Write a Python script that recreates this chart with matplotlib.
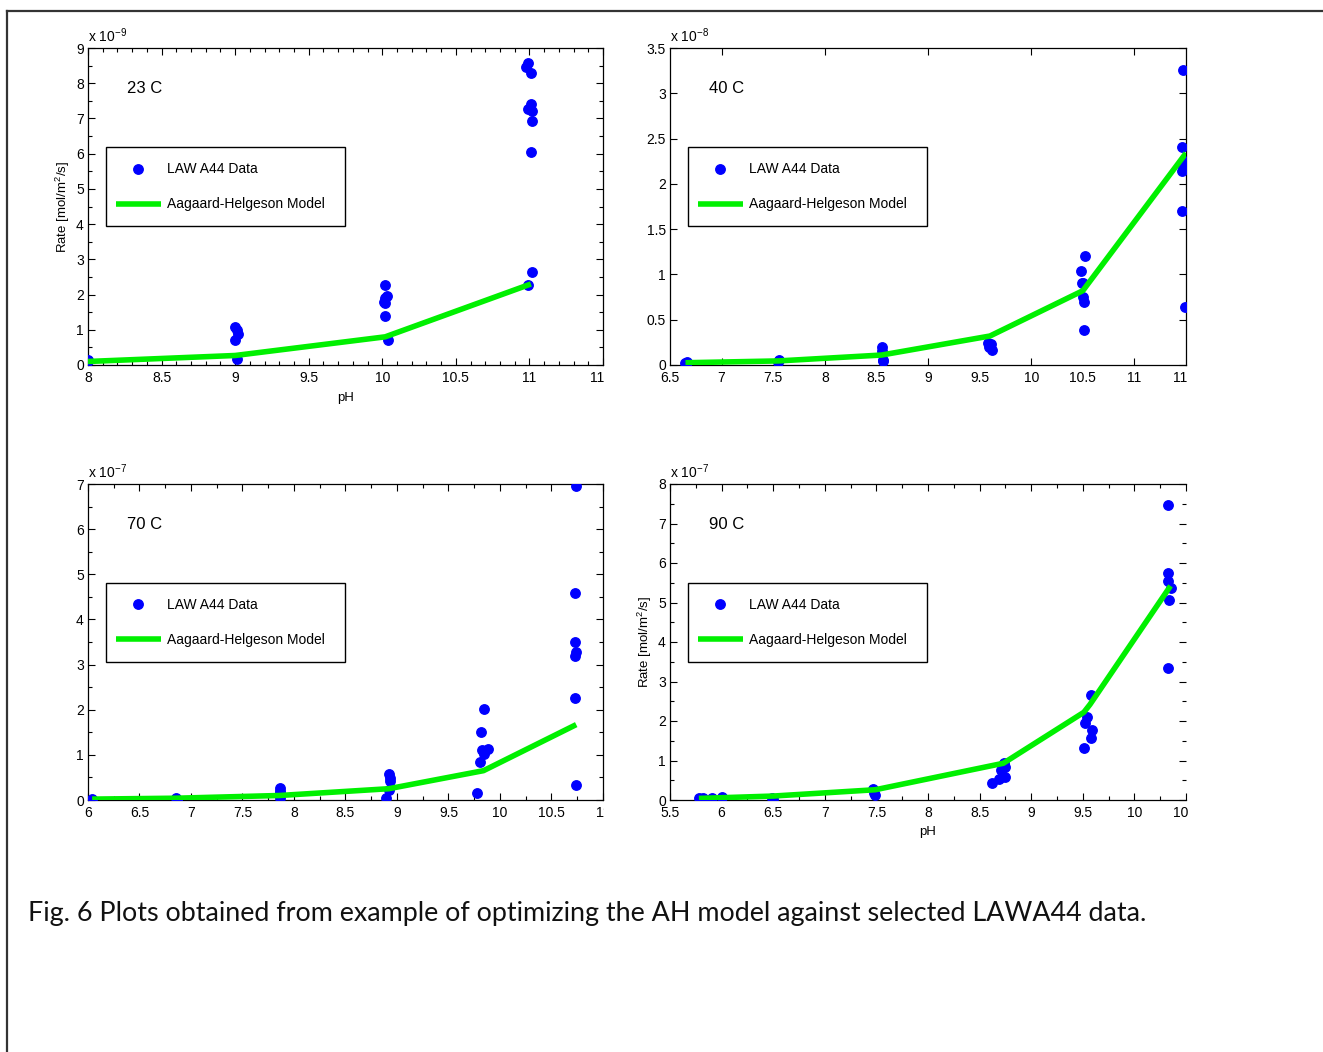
import matplotlib
matplotlib.use("Agg")
import matplotlib.pyplot as plt
from matplotlib.ticker import MultipleLocator, FormatStrFormatter
from matplotlib.patches import Rectangle
from matplotlib.lines import Line2D
from matplotlib.legend_handler import HandlerLine2D

plt.rcParams["font.family"] = ["Liberation Sans", "DejaVu Sans"]
plt.rcParams["mathtext.fontset"] = "custom"
plt.rcParams["mathtext.rm"] = "Liberation Sans"
plt.rcParams["mathtext.it"] = "Liberation Sans"
plt.rcParams["mathtext.bf"] = "Liberation Sans"

# ---------------- data ----------------
temps = ["23 C", "40 C", "70 C", "90 C"]
exponents = [-9, -8, -7, -7]

# 23 C  (rate in units of 1e-9)
ph_23 = [8.0, 8.0, 9.0, 9.01, 9.02, 9.0, 9.01, 10.02, 10.03, 10.02, 10.01, 10.02,
         10.02, 10.04, 10.99, 10.98, 11.01, 11.01, 10.99, 11.02, 11.02, 11.01, 11.02, 10.99]
rate_23 = [0.15, 0.1, 1.08, 1.0, 0.88, 0.72, 0.17, 2.27, 1.96, 1.9, 1.8, 1.75,
           1.38, 0.7, 8.57, 8.45, 8.3, 7.42, 7.26, 7.2, 6.92, 6.05, 2.64, 2.27]
model_ph_23 = [8.0, 9.0, 10.02, 11.01]
model_rate_23 = [0.1, 0.27, 0.8, 2.3]

# 40 C  (rate in units of 1e-8)
ph_40 = [6.65, 6.66, 7.55, 7.56, 8.55, 8.55, 8.56, 8.56, 9.58, 9.6, 9.61, 9.59, 9.62,
         10.48, 10.52, 10.49, 10.5, 10.5, 10.51, 10.51,
         11.47, 11.46, 11.47, 11.46, 11.48, 11.46, 11.49]
rate_40 = [0.02, 0.03, 0.03, 0.05, 0.2, 0.15, 0.06, 0.04, 0.24, 0.22, 0.23, 0.2, 0.17,
           1.04, 1.2, 0.91, 0.9, 0.75, 0.7, 0.39,
           3.26, 2.41, 2.2, 2.14, 2.25, 1.70, 0.64]
model_ph_40 = [6.65, 7.55, 8.55, 9.6, 10.5, 11.5]
model_rate_40 = [0.025, 0.045, 0.11, 0.32, 0.82, 2.34]

# 70 C  (rate in units of 1e-7)
ph_70 = [6.04, 6.85, 6.86, 7.86, 7.86, 7.86, 7.86, 8.92, 8.93, 8.93, 8.92, 8.89,
         9.84, 9.82, 9.83, 9.88, 9.84, 9.81, 9.78,
         10.74, 10.73, 10.73, 10.74, 10.73, 10.73, 10.74]
rate_70 = [0.02, 0.04, 0.0, 0.26, 0.21, 0.16, 0.04, 0.58, 0.48, 0.41, 0.22, 0.04,
           2.02, 1.5, 1.1, 1.12, 1.02, 0.85, 0.16,
           6.95, 4.58, 3.5, 3.27, 3.19, 2.25, 0.33]
model_ph_70 = [6.04, 6.86, 7.86, 8.92, 9.84, 10.74]
model_rate_70 = [0.02, 0.04, 0.1, 0.25, 0.65, 1.67]

# 90 C  (rate in units of 1e-7)
ph_90 = [5.78, 5.8, 5.82, 5.91, 6.0, 6.49, 6.5, 7.47, 7.48, 7.49,
         8.62, 8.69, 8.71, 8.75, 8.75, 8.74,
         9.51, 9.52, 9.54, 9.58, 9.58, 9.59,
         10.33, 10.33, 10.33, 10.35, 10.34, 10.33]
rate_90 = [0.04, 0.03, 0.04, 0.04, 0.08, 0.06, 0.03, 0.29, 0.17, 0.13,
           0.42, 0.53, 0.77, 0.84, 0.59, 0.93,
           1.32, 1.94, 2.1, 2.65, 1.57, 1.78,
           7.47, 5.75, 5.54, 5.37, 5.07, 3.33]
model_ph_90 = [5.78, 6.5, 7.49, 8.73, 9.51, 9.57, 10.35]
model_rate_90 = [0.04, 0.1, 0.26, 0.93, 2.22, 2.42, 5.42]

data_label = "LAW A44 Data"
model_label = "Aagaard-Helgeson Model"
ylabel_text = r"Rate [mol/m$^{2}$/s]"
xlabel_text = "pH"
caption = "Fig. 6 Plots obtained from example of optimizing the AH model against selected LAWA44 data."

# ---------------- layout ----------------
W, H = 1323, 1052
fig = plt.figure(figsize=(W / 100, H / 100), dpi=100)
fig.patch.set_facecolor("white")


def fbox(l, t, r, b):
    return [l / W, 1 - b / H, (r - l) / W, (b - t) / H]


class CenteredHandler(HandlerLine2D):
    """Line/marker legend handler drawn a little lower so it lines up with its label."""
    def create_artists(self, legend, orig_handle, xdescent, ydescent, width, height,
                       fontsize, trans):
        return super().create_artists(legend, orig_handle, xdescent, ydescent + 5.5,
                                      width, height, fontsize, trans)


panels = [
    dict(rect=fbox(88, 48, 603, 365), ph=ph_23, rate=rate_23, mph=model_ph_23, mrate=model_rate_23,
         xlim=(8, 11.5), ylim=(0, 9), xmaj=0.5, xmin=0.1, ymaj=1, ymin=0.5, ylab=True, xlab=True),
    dict(rect=fbox(670, 48, 1186, 365), ph=ph_40, rate=rate_40, mph=model_ph_40, mrate=model_rate_40,
         xlim=(6.5, 11.5), ylim=(0, 3.5), xmaj=0.5, xmin=None, ymaj=0.5, ymin=None, ylab=False, xlab=False),
    dict(rect=fbox(88, 484, 603, 800), ph=ph_70, rate=rate_70, mph=model_ph_70, mrate=model_rate_70,
         xlim=(6, 11), ylim=(0, 7), xmaj=0.5, xmin=0.25, ymaj=1, ymin=0.5, ylab=False, xlab=False),
    dict(rect=fbox(670, 484, 1186, 800), ph=ph_90, rate=rate_90, mph=model_ph_90, mrate=model_rate_90,
         xlim=(5.5, 10.5), ylim=(0, 8), xmaj=0.5, xmin=0.25, ymaj=1, ymin=0.5, ylab=True, xlab=True),
]

blue = "#0000ff"
green = "#00f000"
tick_fs = 10

for i, p in enumerate(panels):
    ax = fig.add_axes(p["rect"])
    ax.plot(p["ph"], p["rate"], "o", ls="none", color=blue, ms=6.8, mec=blue,
            label=data_label, zorder=3)
    ax.plot(p["mph"], p["mrate"], "-", color=green, lw=4.0, label=model_label,
            solid_capstyle="butt", solid_joinstyle="round", zorder=4)
    ax.set_xlim(*p["xlim"])
    ax.set_ylim(*p["ylim"])
    ax.xaxis.set_major_locator(MultipleLocator(p["xmaj"]))
    ax.yaxis.set_major_locator(MultipleLocator(p["ymaj"]))
    ax.xaxis.set_major_formatter(FormatStrFormatter("%g"))
    ax.yaxis.set_major_formatter(FormatStrFormatter("%g"))
    if p["xmin"]:
        ax.xaxis.set_minor_locator(MultipleLocator(p["xmin"]))
    if p["ymin"]:
        ax.yaxis.set_minor_locator(MultipleLocator(p["ymin"]))
    ax.tick_params(which="both", direction="in", top=True, right=True,
                   labelsize=tick_fs, width=0.8)
    ax.tick_params(axis="x", which="both", pad=4.5)
    ax.tick_params(axis="y", which="both", pad=3)
    ax.tick_params(which="major", length=5)
    ax.tick_params(which="minor", length=3)
    if i == 1:
        # this panel shows tick marks only at whole pH units
        ax.xaxis.remove_overlapping_locs = False
        ax.xaxis.set_minor_locator(MultipleLocator(1.0))
        ax.tick_params(axis="x", which="major", length=0)
        ax.tick_params(axis="x", which="minor", length=5)
    for s in ax.spines.values():
        s.set_linewidth(0.9)
    if i == 3:
        ax.spines["right"].set_visible(False)

    if p["ylab"]:
        ax.set_ylabel(ylabel_text, fontsize=9.5, labelpad=3)
    if p["xlab"]:
        ax.set_xlabel(xlabel_text, fontsize=9.5, labelpad=4.5)

    ax.text(0.076, 0.872, temps[i], transform=ax.transAxes, fontsize=12,
            ha="left", va="center")
    ax.annotate(r"x 10$^{%d}$" % exponents[i], xy=(0, 1), xycoords="axes fraction",
                xytext=(0, 2), textcoords="offset points", fontsize=10,
                ha="left", va="bottom")

    leg = ax.legend(loc="upper left", bbox_to_anchor=(0.035, 0.438, 0.464, 0.25),
                    mode="expand", borderaxespad=0, fontsize=10, numpoints=1,
                    fancybox=False, edgecolor="black", framealpha=1,
                    borderpad=0.7, labelspacing=0.75, handlelength=3.24,
                    handleheight=2.35, handletextpad=0.43,
                    handler_map={Line2D: CenteredHandler()})
    leg.get_frame().set_linewidth(1.0)

# crop masks (the source figure was cropped at the panels' right edges)
for (l, t, r, b) in [(604, 366, 645, 395), (604, 801, 645, 830), (1188, 20, 1323, 860)]:
    fig.add_artist(Rectangle((l / W, 1 - b / H), (r - l) / W, (b - t) / H,
                             transform=fig.transFigure, facecolor="white",
                             edgecolor="none", zorder=20))

# page border (top and left)
fig.add_artist(Line2D([7 / W, 1.0], [1 - 11 / H, 1 - 11 / H], transform=fig.transFigure,
                      color="#333333", lw=1.6, zorder=30))
fig.add_artist(Line2D([7 / W, 7 / W], [0, 1 - 11 / H], transform=fig.transFigure,
                      color="#333333", lw=1.6, zorder=30))

# caption, sized to span the same width as in the source
cap = fig.text(28 / W, 1 - 913 / H, caption, fontsize=17, family=["Lato", "DejaVu Sans"],
               ha="left", va="center", color="#111111")
fig.canvas.draw()
w = cap.get_window_extent().width
cap.set_fontsize(17 * 1120 / w)

fig.savefig("out.png", dpi=100)
